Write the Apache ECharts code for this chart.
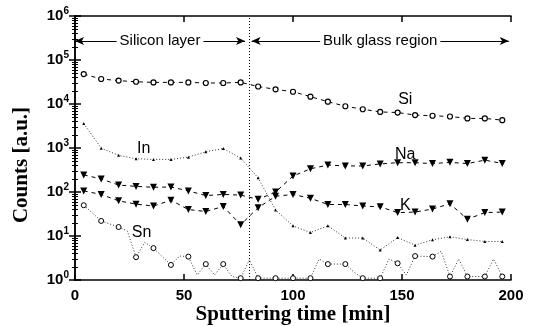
<!DOCTYPE html>
<html>
<head>
<meta charset="utf-8">
<script src="https://cdn.jsdelivr.net/npm/echarts@6/dist/echarts.min.js"></script>
<style>
html, body { margin: 0; padding: 0; background: #fff; }
#root { width: 537px; height: 326px; }
</style>
</head>
<body>
<div id="root"></div>
<script>
// sputtering time of the marked points [min]
const time = [4, 12, 20, 28, 36, 44, 52, 60, 68, 76, 84, 92, 100, 108, 116, 124, 132, 140, 148, 156, 164, 172, 180, 188, 196];

const si = [48000, 37000, 34000, 32000, 31000, 31000, 31000, 30000, 30000, 31000, 25000, 21500, 19000, 14700, 11300, 8900, 7600, 6600, 6400, 5600, 5400, 5200, 4700, 4700, 4300];
const na = [245, 198, 144, 134, 128, 130, 106, 83, 88, 85, 68, 100, 230, 337, 410, 392, 390, 435, 463, 463, 442, 472, 442, 530, 445];
const k = [106, 88, 63, 53, 48, 65, 40, 36, 47, 18, 44, 80, 88, 72, 52, 52, 48, 46, 34, 35, 41, 54, 24, 34, 35];
const inn = [3600, 990, 680, 570, 550, 550, 620, 820, 970, 590, 210, 39, 17, 12, 17, 9, 9, 4.8, 9.2, 6.2, 8.2, 9.6, 8.3, 7.5, 7.5];

// Sn line has extra vertices between the marked points
const snTime = [4, 12, 20, 24, 28, 32, 36, 44, 48, 52, 56, 60, 64, 68, 72, 76, 80, 84, 92, 100, 108, 112, 116, 124, 128, 132, 140, 144, 148, 152, 156, 164, 168, 172, 176, 180, 188, 192, 196];
const sn = [50, 22, 16, 13, 3.3, 7.2, 5.3, 2.2, 3.5, 3.4, 1.3, 2.3, 1.3, 2.3, 1.2, 1.1, 2.9, 1.1, 1.1, 1.1, 1.1, 3.0, 2.3, 2.3, 1.5, 1.1, 1.1, 3.0, 2.4, 1.3, 3.5, 3.4, 4.5, 1.2, 3.0, 1.2, 1.2, 3.0, 1.2];

const xTicks = [0, 50, 100, 150, 200];

let root = document.getElementById('root');
let myChart = echarts.init(root);

const pair = (xs, ys) => xs.map((x, i) => [x, ys[i]]);

const sansBold = { fontFamily: 'Liberation Sans', fontWeight: 'bold', color: '#000' };

// text tag placed in data space next to a curve
const tag = (name, coord) => ({
    symbol: 'rect', symbolSize: 1,
    itemStyle: { color: 'rgba(0,0,0,0)' },
    label: { show: true, position: 'inside', formatter: '{b}', fontFamily: 'Liberation Sans', fontSize: 16, color: '#000' },
    data: [{ name: name, coord: coord }],
});

let option = {
    animation: false,
    backgroundColor: '#fff',
    grid: { left: 75, right: 26, top: 16, bottom: 46 },
    xAxis: [
        {
            type: 'value', min: xTicks[0], max: xTicks[xTicks.length - 1], interval: 50,
            axisLine: { lineStyle: { color: '#000', width: 1.5 } },
            axisTick: { inside: true, length: 6, lineStyle: { color: '#000', width: 1.5 } },
            axisLabel: { ...sansBold, fontSize: 15, margin: 8 },
            splitLine: { show: false },
        },
        {
            type: 'value', position: 'top', min: 0, max: 200, interval: 50,
            axisLine: { lineStyle: { color: '#000', width: 1.5 } },
            axisTick: { inside: true, length: 6, lineStyle: { color: '#000', width: 1.5 } },
            axisLabel: { show: false },
            splitLine: { show: false },
        }
    ],
    yAxis: [
        {
            type: 'log', logBase: 10, min: 1, max: 1e6,
            axisLine: { lineStyle: { color: '#000', width: 1.5 } },
            axisTick: { inside: true, length: 6, lineStyle: { color: '#000', width: 1.5 } },
            minorTick: { show: true, splitNumber: 9, length: 3, lineStyle: { color: '#000' } },
            axisLabel: {
                margin: 6,
                formatter: v => '{b|10}{s|' + Math.round(Math.log10(v)) + '}',
                rich: {
                    b: { ...sansBold, fontSize: 15 },
                    s: { ...sansBold, fontSize: 10, padding: [0, 0, 9, 0] },
                },
            },
            splitLine: { show: false },
        },
        {
            type: 'log', logBase: 10, min: 1, max: 1e6, position: 'right',
            axisLine: { lineStyle: { color: '#000', width: 1.5 } },
            axisTick: { inside: true, length: 6, lineStyle: { color: '#000', width: 1.5 } },
            minorTick: { show: true, splitNumber: 9, length: 3, lineStyle: { color: '#000' } },
            axisLabel: { show: false },
            splitLine: { show: false },
        }
    ],
    series: [
        {
            name: 'Si', type: 'line', data: pair(time, si),
            symbol: 'circle', symbolSize: 5,
            itemStyle: { color: '#fff', borderColor: '#000', borderWidth: 1.2 },
            lineStyle: { color: '#000', width: 1, type: [4, 4] },
            markPoint: tag('Si', [151.5, 12300]),
            markLine: {
                silent: true,
                symbol: ['arrow', 'arrow'], symbolSize: [6, 9],
                lineStyle: { color: '#000', width: 1, type: 'solid' },
                label: {
                    show: true, position: 'insideMiddle', formatter: '{b}',
                    fontFamily: 'Liberation Sans', fontSize: 15, color: '#000',
                    backgroundColor: '#fff', padding: [0, 3],
                },
                data: [
                    [{ name: 'Silicon layer', coord: [0, 2.7e5] }, { coord: [78, 2.7e5] }],
                    [{ name: 'Bulk glass region', coord: [81, 2.7e5] }, { coord: [199, 2.7e5] }],
                ],
            },
        },
        {
            name: 'Na', type: 'line', data: pair(time, na),
            symbol: 'triangle', symbolRotate: 180, symbolSize: 7,
            itemStyle: { color: '#000' },
            lineStyle: { color: '#000', width: 1, type: [4, 4] },
            markPoint: tag('Na', [151.5, 700]),
        },
        {
            name: 'K', type: 'line', data: pair(time, k),
            symbol: 'triangle', symbolRotate: 180, symbolSize: 7,
            itemStyle: { color: '#000' },
            lineStyle: { color: '#000', width: 1, type: [4, 4] },
            markPoint: tag('K', [151.5, 48]),
        },
        {
            name: 'In', type: 'line', data: pair(time, inn),
            symbol: 'triangle', symbolSize: 3,
            itemStyle: { color: '#000' },
            lineStyle: { color: '#000', width: 0.8, type: [1, 2] },
            markPoint: tag('In', [31.5, 960]),
        },
        {
            name: 'Sn', type: 'line',
            data: snTime.map((t, i) => ({ value: [t, sn[i]], symbolSize: t % 8 === 4 ? 5 : 0 })),
            symbol: 'circle',
            itemStyle: { color: '#fff', borderColor: '#000', borderWidth: 1 },
            lineStyle: { color: '#000', width: 0.8, type: [1, 2] },
            markPoint: tag('Sn', [30.5, 11.7]),
            markLine: {
                silent: true, symbol: 'none',
                lineStyle: { color: '#000', width: 1, type: [1, 2] },
                label: { show: false },
                data: [{ xAxis: 80 }],
            },
        },
    ],
    graphic: [
        {
            type: 'text', x: 293, y: 315,
            style: {
                text: 'Sputtering time [min]',
                font: 'bold 21px "Liberation Serif"', fill: '#000',
                align: 'center', verticalAlign: 'middle',
            },
        },
        {
            type: 'text', x: 22, y: 165, rotation: Math.PI / 2,
            style: {
                text: 'Counts [a.u.]',
                font: 'bold 21px "Liberation Serif"', fill: '#000',
                align: 'center', verticalAlign: 'middle',
            },
        },
    ],
};
myChart.setOption(option);
</script>
</body>
</html>
